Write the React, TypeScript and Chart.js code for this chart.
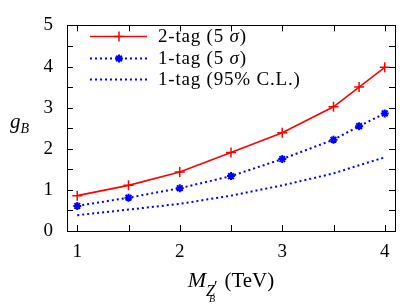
import React, { useEffect, useRef } from 'react';
import { Chart, registerables } from 'chart.js';
Chart.register(...registerables);

const massTeV = [1, 1.5, 2, 2.5, 3, 3.5, 3.75, 4];
const twoTag5Sigma = [0.86, 1.11, 1.435, 1.91, 2.39, 3.02, 3.5, 3.98];
const oneTag5Sigma = [0.61, 0.81, 1.04, 1.335, 1.75, 2.22, 2.55, 2.86];
const oneTag95CL = [0.385, 0.52, 0.66, 0.86, 1.11, 1.4, 1.6, 1.79];
const xTickValues = [1, 2, 3, 4];
const xMinorTicks = [1, 1.5, 2, 2.5, 3, 3.5, 4];
const yTickValues = [0, 1, 2, 3, 4, 5];
const yMinorTicks = [0.5, 1, 1.5, 2, 2.5, 3, 3.5, 4, 4.5];
const seriesLabels = ['2-tag (5 \u03c3)', '1-tag (5 \u03c3)', '1-tag (95% C.L.)'];

const SERIF = '"Liberation Serif", "DejaVu Serif", serif';

const overlay = {
  id: 'overlay',
  afterDraw(chart: any) {
    const { ctx, chartArea } = chart;
    const { left, right, top, bottom } = chartArea;
    const xs = chart.scales.x;
    const ys = chart.scales.y;
    ctx.save();
    ctx.strokeStyle = '#000';
    ctx.lineWidth = 1;
    ctx.setLineDash([]);
    ctx.strokeRect(Math.round(left) + 0.5, Math.round(top) + 0.5, Math.round(right - left), Math.round(bottom - top));
    const tl = 6;
    ctx.beginPath();
    for (const v of xMinorTicks) {
      const px = Math.round(xs.getPixelForValue(v)) + 0.5;
      ctx.moveTo(px, bottom);
      ctx.lineTo(px, bottom - tl);
      ctx.moveTo(px, top);
      ctx.lineTo(px, top + tl);
    }
    for (const v of yMinorTicks) {
      const py = Math.round(ys.getPixelForValue(v)) + 0.5;
      ctx.moveTo(left, py);
      ctx.lineTo(left + tl, py);
      ctx.moveTo(right, py);
      ctx.lineTo(right - tl, py);
    }
    ctx.stroke();

    // legend
    const rows = [36, 58, 79];
    const x0 = 90, x1 = 147, xm = 119;
    chart.data.datasets.forEach((ds: any, i: number) => {
      const y = rows[i] + 0.5;
      ctx.save();
      ctx.strokeStyle = ds.borderColor;
      ctx.lineWidth = ds.borderWidth;
      ctx.setLineDash(ds.borderDash || []);
      ctx.beginPath();
      ctx.moveTo(x0, y);
      ctx.lineTo(x1, y);
      ctx.stroke();
      ctx.setLineDash([]);
      if (ds.pointRadius > 0) {
        ctx.lineWidth = ds.pointBorderWidth;
        const r = ds.pointRadius;
        ctx.beginPath();
        ctx.moveTo(xm - r, y); ctx.lineTo(xm + r, y);
        ctx.moveTo(xm, y - r); ctx.lineTo(xm, y + r);
        if (ds.pointStyle === 'star') {
          const d = r * 0.7071;
          ctx.moveTo(xm - d, y - d); ctx.lineTo(xm + d, y + d);
          ctx.moveTo(xm - d, y + d); ctx.lineTo(xm + d, y - d);
        }
        ctx.stroke();
      }
      ctx.restore();
      ctx.fillStyle = '#000';
      ctx.textBaseline = 'alphabetic';
      ctx.textAlign = 'left';
      const label: string = ds.label;
      let tx = 158;
      const by = rows[i] + 6;
      (ctx as any).letterSpacing = '0.8px';
      for (const ch of label) {
        ctx.font = ch === '\u03c3' ? `italic 19px ${SERIF}` : `19px ${SERIF}`;
        ctx.fillText(ch, tx, by);
        tx += ctx.measureText(ch).width;
      }
      (ctx as any).letterSpacing = '0px';
    });

    // y axis title g_B
    ctx.fillStyle = '#000';
    ctx.font = `italic 21px ${SERIF}`;
    ctx.fillText('g', 10, 128);
    const gw = ctx.measureText('g').width;
    ctx.font = `italic 14px ${SERIF}`;
    ctx.fillText('B', 10 + gw, 133);

    // x axis title M_{Z'_B} (TeV)
    const fM = `italic 22px ${SERIF}`;
    const fZ = `italic 16px ${SERIF}`;
    const fP = `16px ${SERIF}`;
    const fB = `italic 10px ${SERIF}`;
    const fT = `21px ${SERIF}`;
    ctx.font = fM; const wM = ctx.measureText('M').width;
    ctx.font = fZ; const wZ = ctx.measureText('Z').width;
    ctx.font = fP; const wP = ctx.measureText('\u2032').width;
    ctx.font = fT; const wT = ctx.measureText('(TeV)').width;
    const gap = 6;
    const total = wM + wZ + wP + gap + wT;
    let ax = 231 - total / 2;
    ctx.font = fM; ctx.fillText('M', ax, 287); ax += wM;
    const zx = ax;
    ctx.font = fZ; ctx.fillText('Z', ax, 296); ax += wZ;
    ctx.font = fP; ctx.fillText('\u2032', ax - 1, 292); ax += wP;
    ctx.font = fB; ctx.fillText('B', zx + 3, 302);
    ax += gap;
    ctx.font = fT; ctx.fillText('(TeV)', ax, 287);
    ctx.restore();
  },
};

export default function App() {
  const ref = useRef<HTMLCanvasElement>(null);
  useEffect(() => {
    const tickFont = { family: SERIF, size: 19 };
    const chart = new Chart(ref.current!, {
      type: 'line',
      data: {
        datasets: [
          {
            label: seriesLabels[0],
            data: massTeV.map((x, i) => ({ x, y: twoTag5Sigma[i] })),
            borderColor: '#ff0000',
            borderWidth: 1.6,
            pointStyle: 'cross',
            pointRadius: 5,
            pointBorderWidth: 1.5,
            pointBorderColor: '#ff0000',
            pointBackgroundColor: '#ff0000',
            fill: false,
            tension: 0,
          },
          {
            label: seriesLabels[1],
            data: massTeV.map((x, i) => ({ x, y: oneTag5Sigma[i] })),
            borderColor: '#0000ff',
            borderWidth: 2,
            borderDash: [2, 3],
            pointStyle: 'star',
            pointRadius: 4,
            pointBorderWidth: 2,
            pointBorderColor: '#0000ff',
            pointBackgroundColor: '#0000ff',
            fill: false,
            tension: 0,
          },
          {
            label: seriesLabels[2],
            data: massTeV.map((x, i) => ({ x, y: oneTag95CL[i] })),
            borderColor: '#0000ff',
            borderWidth: 2,
            borderDash: [2, 3],
            pointRadius: 0,
            fill: false,
            tension: 0,
          },
        ] as any,
      },
      options: {
        animation: false,
        responsive: false,
        layout: { padding: { left: 0, top: 15, right: 21, bottom: 0 } },
        plugins: { legend: { display: false }, tooltip: { enabled: false } },
        scales: {
          x: {
            type: 'linear',
            min: 0.9,
            max: 4.1,
            afterBuildTicks: (s: any) => { s.ticks = xTickValues.map((v) => ({ value: v })); },
            afterFit: (s: any) => { s.height = 77; },
            ticks: { font: tickFont, color: '#000', padding: 10, maxRotation: 0, autoSkip: false, callback: (v: any) => String(v) },
            grid: { display: false, drawTicks: false },
            border: { display: false },
          },
          y: {
            type: 'linear',
            min: 0,
            max: 5,
            afterBuildTicks: (s: any) => { s.ticks = yTickValues.map((v) => ({ value: v })); },
            afterFit: (s: any) => { s.width = 67; },
            ticks: { font: tickFont, color: '#000', padding: 14, callback: (v: any) => String(v) },
            grid: { display: false, drawTicks: false },
            border: { display: false },
          },
        },
      },
      plugins: [overlay],
    } as any);
    return () => chart.destroy();
  }, []);
  return (
    <div style={{ position: 'absolute', left: 0, top: 0, width: 416, height: 308, background: '#fff' }}>
      <canvas ref={ref} width={416} height={308} style={{ display: 'block', width: 416, height: 308 }} />
    </div>
  );
}
